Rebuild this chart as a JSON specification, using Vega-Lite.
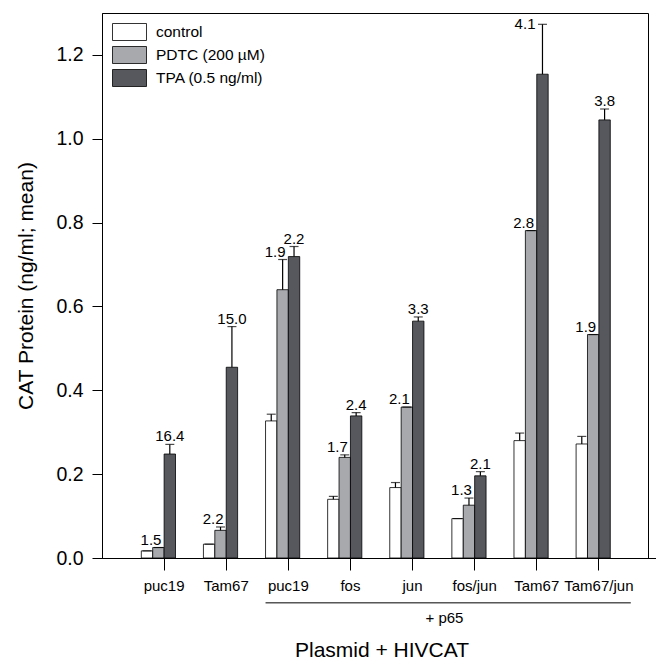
{
  "$schema": "https://vega.github.io/schema/vega-lite/v6.json",
  "width": 546,
  "height": 545,
  "autosize": {"type": "none"},
  "padding": {"left": 102, "top": 13, "right": 8, "bottom": 109},
  "config": {
    "font": "Liberation Sans",
    "view": {"stroke": "black", "strokeWidth": 1},
    "axis": {"domainColor": "black", "tickColor": "black", "labelColor": "black", "titleColor": "black", "grid": false, "titleFontWeight": "normal"}
  },
  "data": {
    "values": [
      {"sample": "puc19", "treatment": "control", "mean": 0.017, "upper": 0.017, "fold": null},
      {"sample": "puc19", "treatment": "PDTC (200 µM)", "mean": 0.025, "upper": 0.025, "fold": "1.5"},
      {"sample": "puc19", "treatment": "TPA (0.5 ng/ml)", "mean": 0.248, "upper": 0.271, "fold": "16.4"},
      {"sample": "Tam67", "treatment": "control", "mean": 0.033, "upper": 0.033, "fold": null},
      {"sample": "Tam67", "treatment": "PDTC (200 µM)", "mean": 0.066, "upper": 0.074, "fold": "2.2"},
      {"sample": "Tam67", "treatment": "TPA (0.5 ng/ml)", "mean": 0.455, "upper": 0.552, "fold": "15.0"},
      {"sample": "p65: puc19", "treatment": "control", "mean": 0.327, "upper": 0.343, "fold": null},
      {"sample": "p65: puc19", "treatment": "PDTC (200 µM)", "mean": 0.640, "upper": 0.712, "fold": "1.9"},
      {"sample": "p65: puc19", "treatment": "TPA (0.5 ng/ml)", "mean": 0.719, "upper": 0.743, "fold": "2.2"},
      {"sample": "p65: fos", "treatment": "control", "mean": 0.140, "upper": 0.147, "fold": null},
      {"sample": "p65: fos", "treatment": "PDTC (200 µM)", "mean": 0.240, "upper": 0.246, "fold": "1.7"},
      {"sample": "p65: fos", "treatment": "TPA (0.5 ng/ml)", "mean": 0.339, "upper": 0.347, "fold": "2.4"},
      {"sample": "p65: jun", "treatment": "control", "mean": 0.168, "upper": 0.180, "fold": null},
      {"sample": "p65: jun", "treatment": "PDTC (200 µM)", "mean": 0.360, "upper": 0.360, "fold": "2.1"},
      {"sample": "p65: jun", "treatment": "TPA (0.5 ng/ml)", "mean": 0.565, "upper": 0.575, "fold": "3.3"},
      {"sample": "p65: fos/jun", "treatment": "control", "mean": 0.094, "upper": 0.094, "fold": null},
      {"sample": "p65: fos/jun", "treatment": "PDTC (200 µM)", "mean": 0.126, "upper": 0.143, "fold": "1.3"},
      {"sample": "p65: fos/jun", "treatment": "TPA (0.5 ng/ml)", "mean": 0.196, "upper": 0.206, "fold": "2.1"},
      {"sample": "p65: Tam67", "treatment": "control", "mean": 0.280, "upper": 0.298, "fold": null},
      {"sample": "p65: Tam67", "treatment": "PDTC (200 µM)", "mean": 0.781, "upper": 0.781, "fold": "2.8"},
      {"sample": "p65: Tam67", "treatment": "TPA (0.5 ng/ml)", "mean": 1.154, "upper": 1.273, "fold": "4.1"},
      {"sample": "p65: Tam67/jun", "treatment": "control", "mean": 0.272, "upper": 0.290, "fold": null},
      {"sample": "p65: Tam67/jun", "treatment": "PDTC (200 µM)", "mean": 0.533, "upper": 0.533, "fold": "1.9"},
      {"sample": "p65: Tam67/jun", "treatment": "TPA (0.5 ng/ml)", "mean": 1.045, "upper": 1.071, "fold": "3.8"}
    ]
  },
  "encoding": {
    "x": {
      "field": "sample",
      "type": "nominal",
      "sort": null,
      "scale": {"paddingInner": 0.266, "paddingOuter": 0.633, "range": [0, 559]},
      "axis": {
        "title": "Plasmid + HIVCAT",
        "titleFontSize": 21,
        "titlePadding": 46,
        "labelAngle": 0,
        "labelFontSize": 15,
        "labelPadding": 8,
        "tickSize": 12,
        "labelExpr": "replace(datum.label, 'p65: ', '')"
      }
    },
    "xOffset": {
      "field": "treatment",
      "type": "nominal",
      "scale": {"domain": ["control", "PDTC (200 µM)", "TPA (0.5 ng/ml)", "(none)"], "paddingInner": 0, "paddingOuter": 0}
    }
  },
  "layer": [
    {
      "mark": {"type": "bar", "stroke": "black", "strokeWidth": 0.8},
      "encoding": {
        "y": {
          "field": "mean",
          "type": "quantitative",
          "scale": {"domain": [0, 1.3], "nice": false},
          "axis": {
            "title": "CAT Protein (ng/ml; mean)",
            "titleFontSize": 21,
            "titlePadding": 19,
            "values": [0, 0.2, 0.4, 0.6, 0.8, 1.0, 1.2],
            "format": ".1f",
            "labelFontSize": 19.5,
            "tickSize": 10,
            "labelPadding": 9
          }
        },
        "fill": {
          "field": "treatment",
          "type": "nominal",
          "scale": {"domain": ["control", "PDTC (200 µM)", "TPA (0.5 ng/ml)"], "range": ["#ffffff", "#a7a9ad", "#56585d"]},
          "legend": {
            "title": null,
            "orient": "none",
            "legendX": 18.5,
            "legendY": 10,
            "symbolType": "M-2,-1H2V1H-2Z",
            "symbolSize": 289,
            "symbolStrokeColor": "black",
            "symbolStrokeWidth": 0.8,
            "labelFontSize": 15.5,
            "labelOffset": 17.5,
            "rowPadding": 1,
            "padding": 0
          }
        }
      }
    },
    {
      "mark": {"type": "rule", "color": "black", "strokeWidth": 1.2},
      "encoding": {
        "y": {"field": "mean", "type": "quantitative"},
        "y2": {"field": "upper"}
      }
    },
    {
      "mark": {"type": "tick", "color": "black", "thickness": 1.2, "size": 9},
      "encoding": {
        "y": {"field": "upper", "type": "quantitative"}
      }
    },
    {
      "transform": [{"filter": "datum.treatment === 'PDTC (200 µM)'"}],
      "mark": {"type": "text", "align": "right", "baseline": "alphabetic", "dx": 3, "dy": -3, "fontSize": 15, "color": "black"},
      "encoding": {
        "y": {"field": "upper", "type": "quantitative"},
        "text": {"field": "fold"}
      }
    },
    {
      "transform": [{"filter": "datum.treatment === 'TPA (0.5 ng/ml)' && datum.fold !== '4.1'"}],
      "mark": {"type": "text", "align": "center", "baseline": "alphabetic", "dy": -3, "fontSize": 15, "color": "black"},
      "encoding": {
        "y": {"field": "upper", "type": "quantitative"},
        "text": {"field": "fold"}
      }
    },
    {
      "transform": [{"filter": "datum.treatment === 'TPA (0.5 ng/ml)' && datum.fold === '4.1'"}],
      "mark": {"type": "text", "align": "right", "baseline": "middle", "dx": -7, "fontSize": 15, "color": "black"},
      "encoding": {
        "y": {"field": "upper", "type": "quantitative"},
        "text": {"field": "fold"}
      }
    },
    {
      "data": {"values": [{"group": "+ p65"}]},
      "mark": {"type": "rule", "color": "black", "strokeWidth": 1},
      "encoding": {
        "x": {"datum": "p65: puc19", "type": "nominal", "bandPosition": 0},
        "x2": {"datum": "p65: Tam67/jun", "bandPosition": 1.2},
        "xOffset": null,
        "y": {"datum": -0.107, "type": "quantitative"}
      }
    },
    {
      "data": {"values": [{"group": "+ p65"}]},
      "mark": {"type": "text", "align": "center", "baseline": "middle", "fontSize": 15, "color": "black"},
      "encoding": {
        "x": {"datum": "p65: jun", "type": "nominal", "bandPosition": 1.2},
        "xOffset": null,
        "y": {"datum": -0.143, "type": "quantitative"},
        "text": {"field": "group"}
      }
    }
  ]
}
